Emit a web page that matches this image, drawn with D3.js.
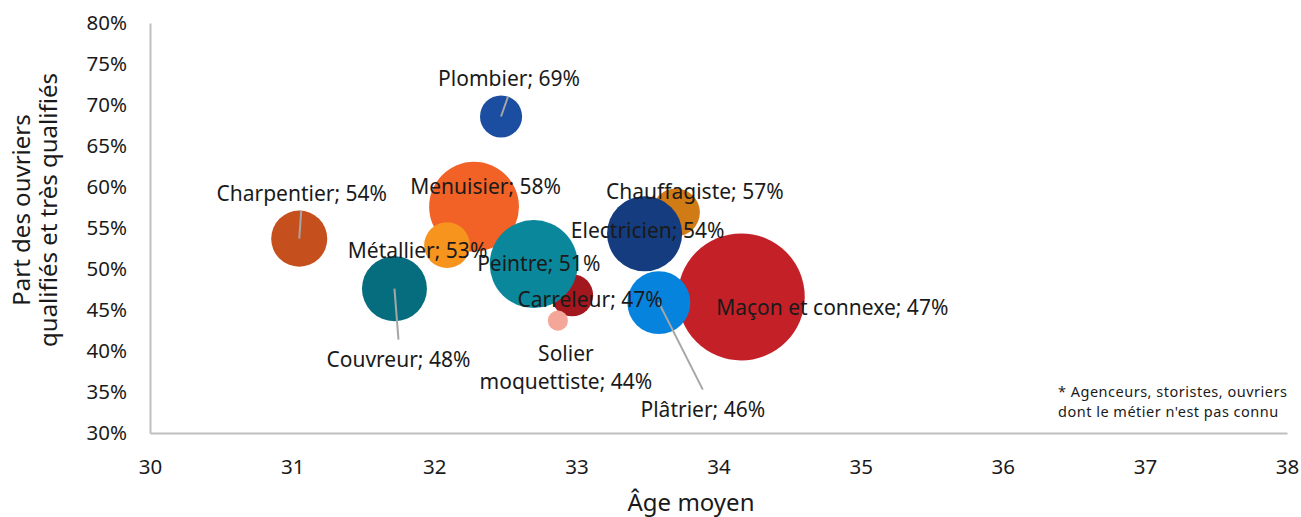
<!DOCTYPE html>
<html lang="fr">
<head>
<meta charset="utf-8">
<script src="https://cdn.jsdelivr.net/npm/d3@7"></script>
<style>
  html, body { margin: 0; padding: 0; background: #ffffff; }
  svg { display: block; font-family: "Noto Sans", "Open Sans", sans-serif; }
</style>
</head>
<body>
<svg id="chart" width="1301" height="517"></svg>
<script>
// Métiers du bâtiment : âge moyen, part des ouvriers qualifiés, effectif (bulle)
const metiers = ["Maçon et connexe", "Menuisier", "Chauffagiste", "Carreleur", "Solier moquettiste",
                 "Peintre", "Electricien", "Plâtrier", "Métallier", "Couvreur", "Charpentier", "Plombier"];
const ageMoyen = [34.16, 32.28, 33.70, 32.97, 32.87, 32.70, 33.48, 33.58, 32.09, 31.72, 31.05, 32.47];
const partQualifies = [0.466, 0.576, 0.569, 0.468, 0.437, 0.506, 0.543, 0.459, 0.529, 0.476, 0.537, 0.686];
const effectif = [100, 50, 14.3, 11, 2.5, 48, 35, 24.6, 13, 26.2, 19.5, 11];
const couleurs = ["#c42028", "#f26125", "#d07b16", "#a3171e", "#f4a799", "#0b879c",
                  "#143c7f", "#0683dc", "#f7941e", "#066d7f", "#c64f1e", "#1b4ea0"];

const xTicks = [30, 31, 32, 33, 34, 35, 36, 37, 38];
const yTicks = [0.30, 0.35, 0.40, 0.45, 0.50, 0.55, 0.60, 0.65, 0.70, 0.75, 0.80];

// Placement des étiquettes (décalage depuis le centre de la bulle) et des traits de rappel
const labelLines = {
  "Solier moquettiste": ["Solier", "moquettiste; 44%"]
};
const labelOffset = {
  "Maçon et connexe": [91, 18],
  "Menuisier": [11.5, -13],
  "Chauffagiste": [19, -13.4],
  "Carreleur": [18, 11.6],
  "Solier moquettiste": [8, 40.3],
  "Peintre": [5, 7],
  "Electricien": [3, 4.3],
  "Plâtrier": [44, 114],
  "Métallier": [-29.5, 13],
  "Couvreur": [4, 78.3],
  "Charpentier": [2.5, -37.7],
  "Plombier": [8, -30]
};
const leaderEnd = {
  "Plombier": [7, -20],
  "Charpentier": [2, -28],
  "Couvreur": [4, 51],
  "Plâtrier": [44, 87]
};

const data = metiers.map((m, i) => ({
  name: m, age: ageMoyen[i], part: partQualifies[i], size: effectif[i], color: couleurs[i]
}));

const svg = d3.select("#chart");
const x = d3.scaleLinear().domain([30, 38]).range([150, 1287]);
const y = d3.scaleLinear().domain([0.30, 0.80]).range([433, 23]);
const r = d3.scaleSqrt().domain([0, 100]).range([0, 63.5]);
const pct = d3.format(".0%");

// Axes
const axisColor = "#bfbfbf";
const gx = svg.append("g").attr("transform", `translate(0,${y(0.30)})`)
  .call(d3.axisBottom(x).tickValues(xTicks).tickFormat(d3.format("d")).tickSize(0).tickPadding(26));
const gy = svg.append("g").attr("transform", `translate(${x(30)},0)`)
  .call(d3.axisLeft(y).tickValues(yTicks).tickFormat(pct).tickSize(0).tickPadding(23));
[gx, gy].forEach(g => {
  g.select(".domain").attr("stroke", axisColor).attr("stroke-width", 2);
  g.selectAll("text").attr("fill", "#1a1a1a").style("font-size", "20.5px")
    .style("font-family", '"Noto Sans", "Open Sans", sans-serif');
});

// Titres d'axes
svg.append("text").attr("x", 691).attr("y", 511).attr("text-anchor", "middle")
  .attr("fill", "#1a1a1a").style("font-size", "24px").text("Âge moyen");
const yTitle = svg.append("text").attr("transform", "translate(0,210) rotate(-90)")
  .attr("text-anchor", "middle").attr("fill", "#1a1a1a").style("font-size", "24px");
yTitle.append("tspan").attr("x", 0).attr("y", 30).text("Part des ouvriers");
yTitle.append("tspan").attr("x", 0).attr("y", 57).text("qualifiés et très qualifiés");

// Bulles
svg.append("g").selectAll("circle").data(data).join("circle")
  .attr("cx", d => x(d.age)).attr("cy", d => y(d.part))
  .attr("r", d => r(d.size)).attr("fill", d => d.color);

// Traits de rappel
svg.append("g").selectAll("line").data(data.filter(d => leaderEnd[d.name])).join("line")
  .attr("x1", d => x(d.age)).attr("y1", d => y(d.part))
  .attr("x2", d => x(d.age) + leaderEnd[d.name][0])
  .attr("y2", d => y(d.part) + leaderEnd[d.name][1])
  .attr("stroke", "#a6a6a6").attr("stroke-width", 2);

// Étiquettes
const labels = svg.append("g").selectAll("text").data(data).join("text")
  .attr("text-anchor", "middle").attr("fill", "#1a1a1a").style("font-size", "21px")
  .attr("transform", d => `translate(${x(d.age) + labelOffset[d.name][0]},${y(d.part) + labelOffset[d.name][1]})`);
labels.each(function(d) {
  const lines = labelLines[d.name] || [`${d.name}; ${pct(d.part)}`];
  d3.select(this).selectAll("tspan").data(lines).join("tspan")
    .attr("x", 0).attr("y", (l, i) => i * 28).text(l => l);
});

// Note
const noteLines = ["* Agenceurs, storistes, ouvriers", "dont le métier n'est pas connu"];
svg.append("g").selectAll("text").data(noteLines).join("text")
  .attr("x", 1058).attr("y", (l, i) => 397 + i * 20)
  .attr("fill", "#1a1a1a").style("font-size", "14.5px").style("letter-spacing", "0.5px")
  .text(l => l);
</script>
</body>
</html>
